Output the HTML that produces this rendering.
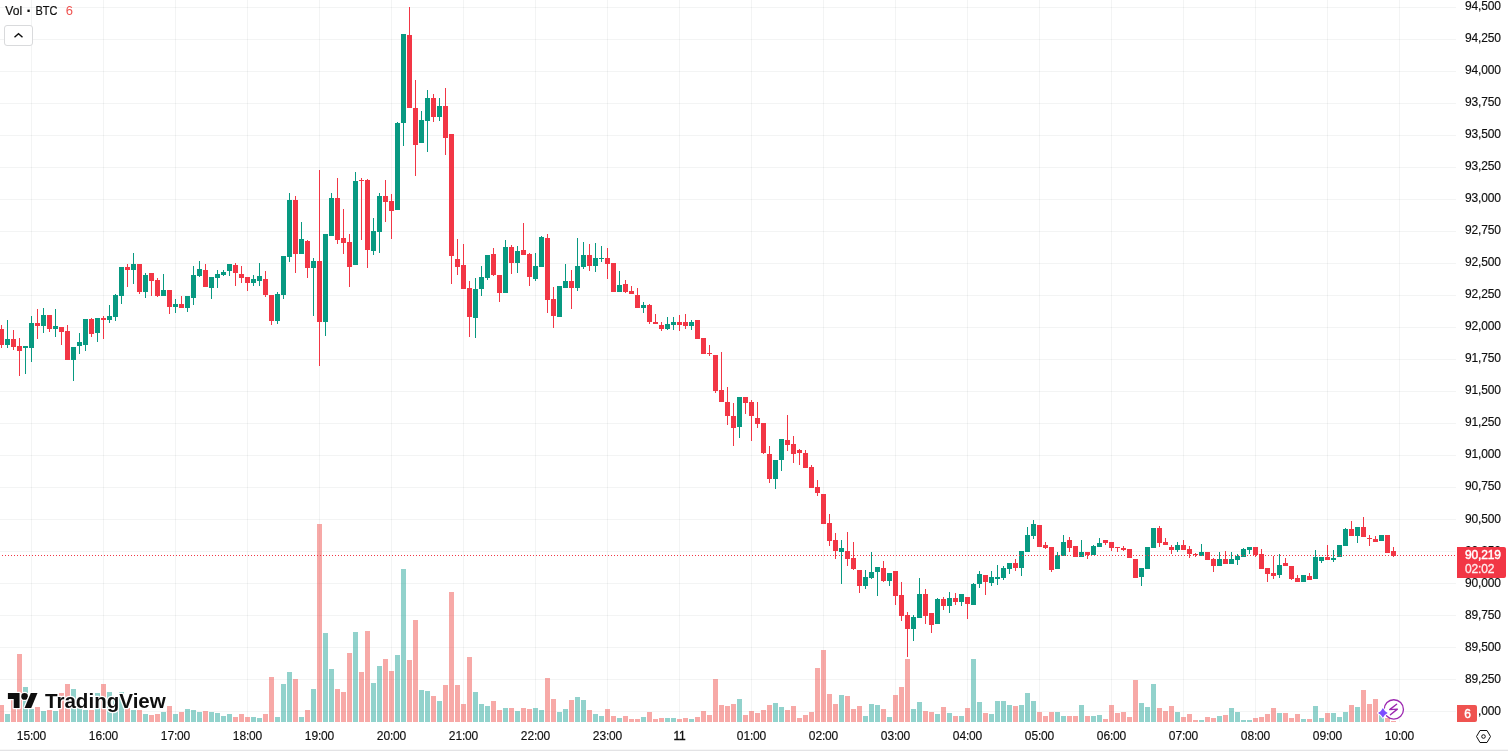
<!DOCTYPE html>
<html><head><meta charset="utf-8"><title>BTC chart</title>
<style>
html,body{margin:0;padding:0;background:#fff;}
body{width:1508px;height:751px;overflow:hidden;font-family:"Liberation Sans",sans-serif;}
svg{display:block;position:absolute;left:0;top:0;}
text{font-family:"Liberation Sans",sans-serif;}
</style></head><body>
<svg width="1508" height="751" viewBox="0 0 1508 751">
<rect width="1508" height="751" fill="#fff"/>

<g shape-rendering="crispEdges" fill="rgba(42,46,57,0.055)">
<rect x="31" y="0" width="1" height="722"/>
<rect x="103" y="0" width="1" height="722"/>
<rect x="175" y="0" width="1" height="722"/>
<rect x="247" y="0" width="1" height="722"/>
<rect x="319" y="0" width="1" height="722"/>
<rect x="391" y="0" width="1" height="722"/>
<rect x="463" y="0" width="1" height="722"/>
<rect x="535" y="0" width="1" height="722"/>
<rect x="607" y="0" width="1" height="722"/>
<rect x="679" y="0" width="1" height="722"/>
<rect x="751" y="0" width="1" height="722"/>
<rect x="823" y="0" width="1" height="722"/>
<rect x="895" y="0" width="1" height="722"/>
<rect x="967" y="0" width="1" height="722"/>
<rect x="1039" y="0" width="1" height="722"/>
<rect x="1111" y="0" width="1" height="722"/>
<rect x="1183" y="0" width="1" height="722"/>
<rect x="1255" y="0" width="1" height="722"/>
<rect x="1327" y="0" width="1" height="722"/>
<rect x="1399" y="0" width="1" height="722"/>
<rect x="0" y="7" width="1456" height="1"/>
<rect x="0" y="39" width="1456" height="1"/>
<rect x="0" y="71" width="1456" height="1"/>
<rect x="0" y="103" width="1456" height="1"/>
<rect x="0" y="135" width="1456" height="1"/>
<rect x="0" y="167" width="1456" height="1"/>
<rect x="0" y="199" width="1456" height="1"/>
<rect x="0" y="231" width="1456" height="1"/>
<rect x="0" y="263" width="1456" height="1"/>
<rect x="0" y="295" width="1456" height="1"/>
<rect x="0" y="327" width="1456" height="1"/>
<rect x="0" y="359" width="1456" height="1"/>
<rect x="0" y="391" width="1456" height="1"/>
<rect x="0" y="423" width="1456" height="1"/>
<rect x="0" y="455" width="1456" height="1"/>
<rect x="0" y="487" width="1456" height="1"/>
<rect x="0" y="519" width="1456" height="1"/>
<rect x="0" y="551" width="1456" height="1"/>
<rect x="0" y="583" width="1456" height="1"/>
<rect x="0" y="615" width="1456" height="1"/>
<rect x="0" y="647" width="1456" height="1"/>
<rect x="0" y="679" width="1456" height="1"/>
<rect x="0" y="711" width="1456" height="1"/>
</g>
<g shape-rendering="crispEdges">
<rect x="-1" y="705" width="5" height="17" fill="rgba(239,83,80,0.5)"/>
<rect x="5" y="714" width="5" height="8" fill="rgba(38,166,154,0.5)"/>
<rect x="11" y="699" width="5" height="23" fill="rgba(239,83,80,0.5)"/>
<rect x="17" y="654" width="5" height="68" fill="rgba(239,83,80,0.5)"/>
<rect x="23" y="687" width="5" height="35" fill="rgba(38,166,154,0.5)"/>
<rect x="29" y="709" width="5" height="13" fill="rgba(38,166,154,0.5)"/>
<rect x="35" y="707" width="5" height="15" fill="rgba(239,83,80,0.5)"/>
<rect x="41" y="711" width="5" height="11" fill="rgba(38,166,154,0.5)"/>
<rect x="47" y="710" width="5" height="12" fill="rgba(239,83,80,0.5)"/>
<rect x="53" y="711" width="5" height="11" fill="rgba(38,166,154,0.5)"/>
<rect x="59" y="693" width="5" height="29" fill="rgba(239,83,80,0.5)"/>
<rect x="65" y="684" width="5" height="38" fill="rgba(239,83,80,0.5)"/>
<rect x="71" y="689" width="5" height="33" fill="rgba(38,166,154,0.5)"/>
<rect x="77" y="705" width="5" height="17" fill="rgba(38,166,154,0.5)"/>
<rect x="83" y="710" width="5" height="12" fill="rgba(38,166,154,0.5)"/>
<rect x="89" y="710" width="5" height="12" fill="rgba(239,83,80,0.5)"/>
<rect x="95" y="693" width="5" height="29" fill="rgba(38,166,154,0.5)"/>
<rect x="101" y="684" width="5" height="38" fill="rgba(239,83,80,0.5)"/>
<rect x="107" y="692" width="5" height="30" fill="rgba(38,166,154,0.5)"/>
<rect x="113" y="700" width="5" height="22" fill="rgba(38,166,154,0.5)"/>
<rect x="119" y="692" width="5" height="30" fill="rgba(38,166,154,0.5)"/>
<rect x="125" y="708" width="5" height="14" fill="rgba(239,83,80,0.5)"/>
<rect x="131" y="710" width="5" height="12" fill="rgba(38,166,154,0.5)"/>
<rect x="137" y="710" width="5" height="12" fill="rgba(239,83,80,0.5)"/>
<rect x="143" y="714" width="5" height="8" fill="rgba(38,166,154,0.5)"/>
<rect x="149" y="715" width="5" height="7" fill="rgba(239,83,80,0.5)"/>
<rect x="155" y="714" width="5" height="8" fill="rgba(239,83,80,0.5)"/>
<rect x="161" y="712" width="5" height="10" fill="rgba(38,166,154,0.5)"/>
<rect x="167" y="706" width="5" height="16" fill="rgba(239,83,80,0.5)"/>
<rect x="173" y="714" width="5" height="8" fill="rgba(38,166,154,0.5)"/>
<rect x="179" y="712" width="5" height="10" fill="rgba(239,83,80,0.5)"/>
<rect x="185" y="709" width="5" height="13" fill="rgba(38,166,154,0.5)"/>
<rect x="191" y="710" width="5" height="12" fill="rgba(38,166,154,0.5)"/>
<rect x="197" y="712" width="5" height="10" fill="rgba(38,166,154,0.5)"/>
<rect x="203" y="711" width="5" height="11" fill="rgba(239,83,80,0.5)"/>
<rect x="209" y="712" width="5" height="10" fill="rgba(38,166,154,0.5)"/>
<rect x="215" y="713" width="5" height="9" fill="rgba(38,166,154,0.5)"/>
<rect x="221" y="716" width="5" height="6" fill="rgba(38,166,154,0.5)"/>
<rect x="227" y="714" width="5" height="8" fill="rgba(38,166,154,0.5)"/>
<rect x="233" y="717" width="5" height="5" fill="rgba(239,83,80,0.5)"/>
<rect x="239" y="714" width="5" height="8" fill="rgba(239,83,80,0.5)"/>
<rect x="245" y="717" width="5" height="5" fill="rgba(239,83,80,0.5)"/>
<rect x="251" y="717" width="5" height="5" fill="rgba(38,166,154,0.5)"/>
<rect x="257" y="718" width="5" height="4" fill="rgba(38,166,154,0.5)"/>
<rect x="263" y="714" width="5" height="8" fill="rgba(239,83,80,0.5)"/>
<rect x="269" y="677" width="5" height="45" fill="rgba(239,83,80,0.5)"/>
<rect x="275" y="717" width="5" height="5" fill="rgba(38,166,154,0.5)"/>
<rect x="281" y="684" width="5" height="38" fill="rgba(38,166,154,0.5)"/>
<rect x="287" y="672" width="5" height="50" fill="rgba(38,166,154,0.5)"/>
<rect x="293" y="679" width="5" height="43" fill="rgba(239,83,80,0.5)"/>
<rect x="299" y="717" width="5" height="5" fill="rgba(38,166,154,0.5)"/>
<rect x="305" y="710" width="5" height="12" fill="rgba(239,83,80,0.5)"/>
<rect x="311" y="689" width="5" height="33" fill="rgba(38,166,154,0.5)"/>
<rect x="317" y="524" width="5" height="198" fill="rgba(239,83,80,0.5)"/>
<rect x="323" y="633" width="5" height="89" fill="rgba(38,166,154,0.5)"/>
<rect x="329" y="669" width="5" height="53" fill="rgba(38,166,154,0.5)"/>
<rect x="335" y="689" width="5" height="33" fill="rgba(239,83,80,0.5)"/>
<rect x="341" y="692" width="5" height="30" fill="rgba(239,83,80,0.5)"/>
<rect x="347" y="653" width="5" height="69" fill="rgba(239,83,80,0.5)"/>
<rect x="353" y="632" width="5" height="90" fill="rgba(38,166,154,0.5)"/>
<rect x="359" y="672" width="5" height="50" fill="rgba(239,83,80,0.5)"/>
<rect x="365" y="631" width="5" height="91" fill="rgba(239,83,80,0.5)"/>
<rect x="371" y="683" width="5" height="39" fill="rgba(38,166,154,0.5)"/>
<rect x="377" y="666" width="5" height="56" fill="rgba(38,166,154,0.5)"/>
<rect x="383" y="659" width="5" height="63" fill="rgba(239,83,80,0.5)"/>
<rect x="389" y="671" width="5" height="51" fill="rgba(239,83,80,0.5)"/>
<rect x="395" y="655" width="5" height="67" fill="rgba(38,166,154,0.5)"/>
<rect x="401" y="569" width="5" height="153" fill="rgba(38,166,154,0.5)"/>
<rect x="407" y="660" width="5" height="62" fill="rgba(239,83,80,0.5)"/>
<rect x="413" y="620" width="5" height="102" fill="rgba(239,83,80,0.5)"/>
<rect x="419" y="690" width="5" height="32" fill="rgba(38,166,154,0.5)"/>
<rect x="425" y="691" width="5" height="31" fill="rgba(38,166,154,0.5)"/>
<rect x="431" y="696" width="5" height="26" fill="rgba(239,83,80,0.5)"/>
<rect x="437" y="701" width="5" height="21" fill="rgba(38,166,154,0.5)"/>
<rect x="443" y="685" width="5" height="37" fill="rgba(239,83,80,0.5)"/>
<rect x="449" y="592" width="5" height="130" fill="rgba(239,83,80,0.5)"/>
<rect x="455" y="685" width="5" height="37" fill="rgba(239,83,80,0.5)"/>
<rect x="461" y="704" width="5" height="18" fill="rgba(239,83,80,0.5)"/>
<rect x="467" y="657" width="5" height="65" fill="rgba(239,83,80,0.5)"/>
<rect x="473" y="692" width="5" height="30" fill="rgba(38,166,154,0.5)"/>
<rect x="479" y="704" width="5" height="18" fill="rgba(38,166,154,0.5)"/>
<rect x="485" y="706" width="5" height="16" fill="rgba(38,166,154,0.5)"/>
<rect x="491" y="701" width="5" height="21" fill="rgba(239,83,80,0.5)"/>
<rect x="497" y="710" width="5" height="12" fill="rgba(239,83,80,0.5)"/>
<rect x="503" y="708" width="5" height="14" fill="rgba(38,166,154,0.5)"/>
<rect x="509" y="708" width="5" height="14" fill="rgba(239,83,80,0.5)"/>
<rect x="515" y="711" width="5" height="11" fill="rgba(38,166,154,0.5)"/>
<rect x="521" y="708" width="5" height="14" fill="rgba(239,83,80,0.5)"/>
<rect x="527" y="709" width="5" height="13" fill="rgba(239,83,80,0.5)"/>
<rect x="533" y="708" width="5" height="14" fill="rgba(38,166,154,0.5)"/>
<rect x="539" y="710" width="5" height="12" fill="rgba(38,166,154,0.5)"/>
<rect x="545" y="678" width="5" height="44" fill="rgba(239,83,80,0.5)"/>
<rect x="551" y="699" width="5" height="23" fill="rgba(239,83,80,0.5)"/>
<rect x="557" y="712" width="5" height="10" fill="rgba(38,166,154,0.5)"/>
<rect x="563" y="709" width="5" height="13" fill="rgba(38,166,154,0.5)"/>
<rect x="569" y="700" width="5" height="22" fill="rgba(239,83,80,0.5)"/>
<rect x="575" y="697" width="5" height="25" fill="rgba(38,166,154,0.5)"/>
<rect x="581" y="700" width="5" height="22" fill="rgba(38,166,154,0.5)"/>
<rect x="587" y="710" width="5" height="12" fill="rgba(239,83,80,0.5)"/>
<rect x="593" y="714" width="5" height="8" fill="rgba(38,166,154,0.5)"/>
<rect x="599" y="716" width="5" height="6" fill="rgba(38,166,154,0.5)"/>
<rect x="605" y="709" width="5" height="13" fill="rgba(239,83,80,0.5)"/>
<rect x="611" y="716" width="5" height="6" fill="rgba(239,83,80,0.5)"/>
<rect x="617" y="718" width="5" height="4" fill="rgba(38,166,154,0.5)"/>
<rect x="623" y="716" width="5" height="6" fill="rgba(239,83,80,0.5)"/>
<rect x="629" y="719" width="5" height="3" fill="rgba(239,83,80,0.5)"/>
<rect x="635" y="719" width="5" height="3" fill="rgba(239,83,80,0.5)"/>
<rect x="641" y="717" width="5" height="5" fill="rgba(38,166,154,0.5)"/>
<rect x="647" y="712" width="5" height="10" fill="rgba(239,83,80,0.5)"/>
<rect x="653" y="719" width="5" height="3" fill="rgba(239,83,80,0.5)"/>
<rect x="659" y="718" width="5" height="4" fill="rgba(239,83,80,0.5)"/>
<rect x="665" y="718" width="5" height="4" fill="rgba(38,166,154,0.5)"/>
<rect x="671" y="718" width="5" height="4" fill="rgba(38,166,154,0.5)"/>
<rect x="677" y="719" width="5" height="3" fill="rgba(239,83,80,0.5)"/>
<rect x="683" y="718" width="5" height="4" fill="rgba(239,83,80,0.5)"/>
<rect x="689" y="719" width="5" height="3" fill="rgba(38,166,154,0.5)"/>
<rect x="695" y="717" width="5" height="5" fill="rgba(239,83,80,0.5)"/>
<rect x="701" y="711" width="5" height="11" fill="rgba(239,83,80,0.5)"/>
<rect x="707" y="715" width="5" height="7" fill="rgba(239,83,80,0.5)"/>
<rect x="713" y="679" width="5" height="43" fill="rgba(239,83,80,0.5)"/>
<rect x="719" y="705" width="5" height="17" fill="rgba(239,83,80,0.5)"/>
<rect x="725" y="706" width="5" height="16" fill="rgba(239,83,80,0.5)"/>
<rect x="731" y="704" width="5" height="18" fill="rgba(239,83,80,0.5)"/>
<rect x="737" y="699" width="5" height="23" fill="rgba(38,166,154,0.5)"/>
<rect x="743" y="715" width="5" height="7" fill="rgba(239,83,80,0.5)"/>
<rect x="749" y="711" width="5" height="11" fill="rgba(239,83,80,0.5)"/>
<rect x="755" y="713" width="5" height="9" fill="rgba(239,83,80,0.5)"/>
<rect x="761" y="710" width="5" height="12" fill="rgba(239,83,80,0.5)"/>
<rect x="767" y="705" width="5" height="17" fill="rgba(239,83,80,0.5)"/>
<rect x="773" y="703" width="5" height="19" fill="rgba(38,166,154,0.5)"/>
<rect x="779" y="707" width="5" height="15" fill="rgba(38,166,154,0.5)"/>
<rect x="785" y="710" width="5" height="12" fill="rgba(239,83,80,0.5)"/>
<rect x="791" y="706" width="5" height="16" fill="rgba(239,83,80,0.5)"/>
<rect x="797" y="718" width="5" height="4" fill="rgba(239,83,80,0.5)"/>
<rect x="803" y="715" width="5" height="7" fill="rgba(239,83,80,0.5)"/>
<rect x="809" y="712" width="5" height="10" fill="rgba(239,83,80,0.5)"/>
<rect x="815" y="668" width="5" height="54" fill="rgba(239,83,80,0.5)"/>
<rect x="821" y="650" width="5" height="72" fill="rgba(239,83,80,0.5)"/>
<rect x="827" y="694" width="5" height="28" fill="rgba(239,83,80,0.5)"/>
<rect x="833" y="704" width="5" height="18" fill="rgba(239,83,80,0.5)"/>
<rect x="839" y="695" width="5" height="27" fill="rgba(38,166,154,0.5)"/>
<rect x="845" y="696" width="5" height="26" fill="rgba(239,83,80,0.5)"/>
<rect x="851" y="709" width="5" height="13" fill="rgba(239,83,80,0.5)"/>
<rect x="857" y="706" width="5" height="16" fill="rgba(239,83,80,0.5)"/>
<rect x="863" y="716" width="5" height="6" fill="rgba(38,166,154,0.5)"/>
<rect x="869" y="704" width="5" height="18" fill="rgba(38,166,154,0.5)"/>
<rect x="875" y="705" width="5" height="17" fill="rgba(38,166,154,0.5)"/>
<rect x="881" y="709" width="5" height="13" fill="rgba(239,83,80,0.5)"/>
<rect x="887" y="717" width="5" height="5" fill="rgba(38,166,154,0.5)"/>
<rect x="893" y="695" width="5" height="27" fill="rgba(239,83,80,0.5)"/>
<rect x="899" y="687" width="5" height="35" fill="rgba(239,83,80,0.5)"/>
<rect x="905" y="659" width="5" height="63" fill="rgba(239,83,80,0.5)"/>
<rect x="911" y="709" width="5" height="13" fill="rgba(38,166,154,0.5)"/>
<rect x="917" y="702" width="5" height="20" fill="rgba(38,166,154,0.5)"/>
<rect x="923" y="711" width="5" height="11" fill="rgba(239,83,80,0.5)"/>
<rect x="929" y="712" width="5" height="10" fill="rgba(239,83,80,0.5)"/>
<rect x="935" y="714" width="5" height="8" fill="rgba(38,166,154,0.5)"/>
<rect x="941" y="707" width="5" height="15" fill="rgba(239,83,80,0.5)"/>
<rect x="947" y="713" width="5" height="9" fill="rgba(38,166,154,0.5)"/>
<rect x="953" y="716" width="5" height="6" fill="rgba(239,83,80,0.5)"/>
<rect x="959" y="716" width="5" height="6" fill="rgba(38,166,154,0.5)"/>
<rect x="965" y="708" width="5" height="14" fill="rgba(239,83,80,0.5)"/>
<rect x="971" y="659" width="5" height="63" fill="rgba(38,166,154,0.5)"/>
<rect x="977" y="702" width="5" height="20" fill="rgba(38,166,154,0.5)"/>
<rect x="983" y="713" width="5" height="9" fill="rgba(239,83,80,0.5)"/>
<rect x="989" y="714" width="5" height="8" fill="rgba(38,166,154,0.5)"/>
<rect x="995" y="701" width="5" height="21" fill="rgba(38,166,154,0.5)"/>
<rect x="1001" y="701" width="5" height="21" fill="rgba(38,166,154,0.5)"/>
<rect x="1007" y="705" width="5" height="17" fill="rgba(38,166,154,0.5)"/>
<rect x="1013" y="706" width="5" height="16" fill="rgba(239,83,80,0.5)"/>
<rect x="1019" y="705" width="5" height="17" fill="rgba(38,166,154,0.5)"/>
<rect x="1025" y="693" width="5" height="29" fill="rgba(38,166,154,0.5)"/>
<rect x="1031" y="701" width="5" height="21" fill="rgba(38,166,154,0.5)"/>
<rect x="1037" y="712" width="5" height="10" fill="rgba(239,83,80,0.5)"/>
<rect x="1043" y="716" width="5" height="6" fill="rgba(239,83,80,0.5)"/>
<rect x="1049" y="712" width="5" height="10" fill="rgba(239,83,80,0.5)"/>
<rect x="1055" y="712" width="5" height="10" fill="rgba(38,166,154,0.5)"/>
<rect x="1061" y="716" width="5" height="6" fill="rgba(38,166,154,0.5)"/>
<rect x="1067" y="716" width="5" height="6" fill="rgba(239,83,80,0.5)"/>
<rect x="1073" y="716" width="5" height="6" fill="rgba(239,83,80,0.5)"/>
<rect x="1079" y="705" width="5" height="17" fill="rgba(38,166,154,0.5)"/>
<rect x="1085" y="716" width="5" height="6" fill="rgba(239,83,80,0.5)"/>
<rect x="1091" y="716" width="5" height="6" fill="rgba(38,166,154,0.5)"/>
<rect x="1097" y="715" width="5" height="7" fill="rgba(38,166,154,0.5)"/>
<rect x="1103" y="719" width="5" height="3" fill="rgba(239,83,80,0.5)"/>
<rect x="1109" y="705" width="5" height="17" fill="rgba(239,83,80,0.5)"/>
<rect x="1115" y="713" width="5" height="9" fill="rgba(239,83,80,0.5)"/>
<rect x="1121" y="712" width="5" height="10" fill="rgba(239,83,80,0.5)"/>
<rect x="1127" y="717" width="5" height="5" fill="rgba(239,83,80,0.5)"/>
<rect x="1133" y="680" width="5" height="42" fill="rgba(239,83,80,0.5)"/>
<rect x="1139" y="703" width="5" height="19" fill="rgba(38,166,154,0.5)"/>
<rect x="1145" y="707" width="5" height="15" fill="rgba(38,166,154,0.5)"/>
<rect x="1151" y="684" width="5" height="38" fill="rgba(38,166,154,0.5)"/>
<rect x="1157" y="708" width="5" height="14" fill="rgba(239,83,80,0.5)"/>
<rect x="1163" y="711" width="5" height="11" fill="rgba(239,83,80,0.5)"/>
<rect x="1169" y="706" width="5" height="16" fill="rgba(239,83,80,0.5)"/>
<rect x="1175" y="712" width="5" height="10" fill="rgba(38,166,154,0.5)"/>
<rect x="1181" y="717" width="5" height="5" fill="rgba(239,83,80,0.5)"/>
<rect x="1187" y="714" width="5" height="8" fill="rgba(239,83,80,0.5)"/>
<rect x="1193" y="720" width="5" height="2" fill="rgba(239,83,80,0.5)"/>
<rect x="1199" y="720" width="5" height="2" fill="rgba(38,166,154,0.5)"/>
<rect x="1205" y="717" width="5" height="5" fill="rgba(239,83,80,0.5)"/>
<rect x="1211" y="718" width="5" height="4" fill="rgba(239,83,80,0.5)"/>
<rect x="1217" y="716" width="5" height="6" fill="rgba(38,166,154,0.5)"/>
<rect x="1223" y="715" width="5" height="7" fill="rgba(239,83,80,0.5)"/>
<rect x="1229" y="708" width="5" height="14" fill="rgba(38,166,154,0.5)"/>
<rect x="1235" y="712" width="5" height="10" fill="rgba(38,166,154,0.5)"/>
<rect x="1241" y="720" width="5" height="2" fill="rgba(38,166,154,0.5)"/>
<rect x="1247" y="720" width="5" height="2" fill="rgba(38,166,154,0.5)"/>
<rect x="1253" y="718" width="5" height="4" fill="rgba(239,83,80,0.5)"/>
<rect x="1259" y="717" width="5" height="5" fill="rgba(239,83,80,0.5)"/>
<rect x="1265" y="714" width="5" height="8" fill="rgba(239,83,80,0.5)"/>
<rect x="1271" y="708" width="5" height="14" fill="rgba(239,83,80,0.5)"/>
<rect x="1277" y="713" width="5" height="9" fill="rgba(38,166,154,0.5)"/>
<rect x="1283" y="713" width="5" height="9" fill="rgba(239,83,80,0.5)"/>
<rect x="1289" y="718" width="5" height="4" fill="rgba(239,83,80,0.5)"/>
<rect x="1295" y="714" width="5" height="8" fill="rgba(239,83,80,0.5)"/>
<rect x="1301" y="719" width="5" height="3" fill="rgba(38,166,154,0.5)"/>
<rect x="1307" y="719" width="5" height="3" fill="rgba(239,83,80,0.5)"/>
<rect x="1313" y="706" width="5" height="16" fill="rgba(38,166,154,0.5)"/>
<rect x="1319" y="718" width="5" height="4" fill="rgba(38,166,154,0.5)"/>
<rect x="1325" y="713" width="5" height="9" fill="rgba(239,83,80,0.5)"/>
<rect x="1331" y="713" width="5" height="9" fill="rgba(38,166,154,0.5)"/>
<rect x="1337" y="717" width="5" height="5" fill="rgba(38,166,154,0.5)"/>
<rect x="1343" y="712" width="5" height="10" fill="rgba(38,166,154,0.5)"/>
<rect x="1349" y="705" width="5" height="17" fill="rgba(239,83,80,0.5)"/>
<rect x="1355" y="707" width="5" height="15" fill="rgba(38,166,154,0.5)"/>
<rect x="1361" y="690" width="5" height="32" fill="rgba(239,83,80,0.5)"/>
<rect x="1367" y="704" width="5" height="18" fill="rgba(239,83,80,0.5)"/>
<rect x="1373" y="699" width="5" height="23" fill="rgba(239,83,80,0.5)"/>
<rect x="1379" y="714" width="5" height="8" fill="rgba(38,166,154,0.5)"/>
<rect x="1385" y="718" width="5" height="4" fill="rgba(239,83,80,0.5)"/>
<rect x="1391" y="721" width="5" height="1" fill="rgba(239,83,80,0.5)"/>
</g>
<g shape-rendering="crispEdges">
<rect x="1" y="325" width="1" height="23" fill="#F23645"/>
<rect x="-1" y="329" width="5" height="16" fill="#F23645"/>
<rect x="7" y="320" width="1" height="28" fill="#089981"/>
<rect x="5" y="339" width="5" height="6" fill="#089981"/>
<rect x="13" y="330" width="1" height="20" fill="#F23645"/>
<rect x="11" y="339" width="5" height="8" fill="#F23645"/>
<rect x="19" y="338" width="1" height="38" fill="#F23645"/>
<rect x="17" y="346" width="5" height="5" fill="#F23645"/>
<rect x="25" y="346" width="1" height="28" fill="#089981"/>
<rect x="23" y="346" width="5" height="2" fill="#089981"/>
<rect x="31" y="316" width="1" height="46" fill="#089981"/>
<rect x="29" y="323" width="5" height="25" fill="#089981"/>
<rect x="37" y="309" width="1" height="30" fill="#F23645"/>
<rect x="35" y="323" width="5" height="3" fill="#F23645"/>
<rect x="43" y="308" width="1" height="25" fill="#089981"/>
<rect x="41" y="315" width="5" height="11" fill="#089981"/>
<rect x="49" y="315" width="1" height="17" fill="#F23645"/>
<rect x="47" y="315" width="5" height="14" fill="#F23645"/>
<rect x="55" y="309" width="1" height="28" fill="#089981"/>
<rect x="53" y="326" width="5" height="3" fill="#089981"/>
<rect x="61" y="327" width="1" height="18" fill="#F23645"/>
<rect x="59" y="327" width="5" height="5" fill="#F23645"/>
<rect x="67" y="325" width="1" height="35" fill="#F23645"/>
<rect x="65" y="331" width="5" height="29" fill="#F23645"/>
<rect x="73" y="347" width="1" height="34" fill="#089981"/>
<rect x="71" y="347" width="5" height="13" fill="#089981"/>
<rect x="79" y="333" width="1" height="21" fill="#089981"/>
<rect x="77" y="342" width="5" height="4" fill="#089981"/>
<rect x="85" y="319" width="1" height="32" fill="#089981"/>
<rect x="83" y="319" width="5" height="26" fill="#089981"/>
<rect x="91" y="318" width="1" height="19" fill="#F23645"/>
<rect x="89" y="319" width="5" height="15" fill="#F23645"/>
<rect x="97" y="318" width="1" height="24" fill="#089981"/>
<rect x="95" y="318" width="5" height="15" fill="#089981"/>
<rect x="103" y="316" width="1" height="23" fill="#F23645"/>
<rect x="101" y="318" width="5" height="2" fill="#F23645"/>
<rect x="109" y="305" width="1" height="18" fill="#089981"/>
<rect x="107" y="316" width="5" height="4" fill="#089981"/>
<rect x="115" y="294" width="1" height="27" fill="#089981"/>
<rect x="113" y="295" width="5" height="22" fill="#089981"/>
<rect x="121" y="267" width="1" height="37" fill="#089981"/>
<rect x="119" y="267" width="5" height="29" fill="#089981"/>
<rect x="127" y="264" width="1" height="23" fill="#F23645"/>
<rect x="125" y="267" width="5" height="3" fill="#F23645"/>
<rect x="133" y="253" width="1" height="31" fill="#089981"/>
<rect x="131" y="264" width="5" height="6" fill="#089981"/>
<rect x="139" y="264" width="1" height="30" fill="#F23645"/>
<rect x="137" y="264" width="5" height="28" fill="#F23645"/>
<rect x="145" y="273" width="1" height="25" fill="#089981"/>
<rect x="143" y="275" width="5" height="17" fill="#089981"/>
<rect x="151" y="273" width="1" height="23" fill="#F23645"/>
<rect x="149" y="273" width="5" height="8" fill="#F23645"/>
<rect x="157" y="278" width="1" height="19" fill="#F23645"/>
<rect x="155" y="280" width="5" height="16" fill="#F23645"/>
<rect x="163" y="274" width="1" height="22" fill="#089981"/>
<rect x="161" y="290" width="5" height="6" fill="#089981"/>
<rect x="169" y="290" width="1" height="24" fill="#F23645"/>
<rect x="167" y="290" width="5" height="17" fill="#F23645"/>
<rect x="175" y="299" width="1" height="14" fill="#089981"/>
<rect x="173" y="304" width="5" height="3" fill="#089981"/>
<rect x="181" y="296" width="1" height="12" fill="#F23645"/>
<rect x="179" y="304" width="5" height="4" fill="#F23645"/>
<rect x="187" y="296" width="1" height="16" fill="#089981"/>
<rect x="185" y="296" width="5" height="12" fill="#089981"/>
<rect x="193" y="266" width="1" height="39" fill="#089981"/>
<rect x="191" y="275" width="5" height="23" fill="#089981"/>
<rect x="199" y="261" width="1" height="16" fill="#089981"/>
<rect x="197" y="269" width="5" height="7" fill="#089981"/>
<rect x="205" y="264" width="1" height="23" fill="#F23645"/>
<rect x="203" y="270" width="5" height="17" fill="#F23645"/>
<rect x="211" y="277" width="1" height="22" fill="#089981"/>
<rect x="209" y="277" width="5" height="11" fill="#089981"/>
<rect x="217" y="270" width="1" height="18" fill="#089981"/>
<rect x="215" y="274" width="5" height="4" fill="#089981"/>
<rect x="223" y="270" width="1" height="6" fill="#089981"/>
<rect x="221" y="272" width="5" height="3" fill="#089981"/>
<rect x="229" y="264" width="1" height="12" fill="#089981"/>
<rect x="227" y="264" width="5" height="7" fill="#089981"/>
<rect x="235" y="263" width="1" height="23" fill="#F23645"/>
<rect x="233" y="265" width="5" height="8" fill="#F23645"/>
<rect x="241" y="266" width="1" height="17" fill="#F23645"/>
<rect x="239" y="274" width="5" height="4" fill="#F23645"/>
<rect x="247" y="277" width="1" height="14" fill="#F23645"/>
<rect x="245" y="277" width="5" height="6" fill="#F23645"/>
<rect x="253" y="275" width="1" height="11" fill="#089981"/>
<rect x="251" y="279" width="5" height="4" fill="#089981"/>
<rect x="259" y="263" width="1" height="23" fill="#089981"/>
<rect x="257" y="276" width="5" height="5" fill="#089981"/>
<rect x="265" y="271" width="1" height="26" fill="#F23645"/>
<rect x="263" y="279" width="5" height="16" fill="#F23645"/>
<rect x="271" y="295" width="1" height="30" fill="#F23645"/>
<rect x="269" y="295" width="5" height="26" fill="#F23645"/>
<rect x="277" y="292" width="1" height="32" fill="#089981"/>
<rect x="275" y="294" width="5" height="27" fill="#089981"/>
<rect x="283" y="256" width="1" height="43" fill="#089981"/>
<rect x="281" y="256" width="5" height="39" fill="#089981"/>
<rect x="289" y="193" width="1" height="69" fill="#089981"/>
<rect x="287" y="200" width="5" height="57" fill="#089981"/>
<rect x="295" y="196" width="1" height="77" fill="#F23645"/>
<rect x="293" y="200" width="5" height="54" fill="#F23645"/>
<rect x="301" y="222" width="1" height="32" fill="#089981"/>
<rect x="299" y="239" width="5" height="15" fill="#089981"/>
<rect x="307" y="240" width="1" height="38" fill="#F23645"/>
<rect x="305" y="241" width="5" height="27" fill="#F23645"/>
<rect x="313" y="258" width="1" height="58" fill="#089981"/>
<rect x="311" y="261" width="5" height="7" fill="#089981"/>
<rect x="319" y="170" width="1" height="196" fill="#F23645"/>
<rect x="317" y="261" width="5" height="61" fill="#F23645"/>
<rect x="325" y="234" width="1" height="102" fill="#089981"/>
<rect x="323" y="234" width="5" height="88" fill="#089981"/>
<rect x="331" y="193" width="1" height="43" fill="#089981"/>
<rect x="329" y="198" width="5" height="38" fill="#089981"/>
<rect x="337" y="178" width="1" height="66" fill="#F23645"/>
<rect x="335" y="198" width="5" height="42" fill="#F23645"/>
<rect x="343" y="209" width="1" height="45" fill="#F23645"/>
<rect x="341" y="238" width="5" height="5" fill="#F23645"/>
<rect x="349" y="234" width="1" height="53" fill="#F23645"/>
<rect x="347" y="242" width="5" height="25" fill="#F23645"/>
<rect x="355" y="172" width="1" height="93" fill="#089981"/>
<rect x="353" y="181" width="5" height="84" fill="#089981"/>
<rect x="361" y="178" width="1" height="62" fill="#F23645"/>
<rect x="359" y="180" width="5" height="1" fill="#F23645"/>
<rect x="367" y="179" width="1" height="89" fill="#F23645"/>
<rect x="365" y="180" width="5" height="70" fill="#F23645"/>
<rect x="373" y="218" width="1" height="37" fill="#089981"/>
<rect x="371" y="231" width="5" height="20" fill="#089981"/>
<rect x="379" y="193" width="1" height="60" fill="#089981"/>
<rect x="377" y="196" width="5" height="36" fill="#089981"/>
<rect x="385" y="180" width="1" height="42" fill="#F23645"/>
<rect x="383" y="196" width="5" height="6" fill="#F23645"/>
<rect x="391" y="194" width="1" height="45" fill="#F23645"/>
<rect x="389" y="201" width="5" height="10" fill="#F23645"/>
<rect x="397" y="122" width="1" height="88" fill="#089981"/>
<rect x="395" y="123" width="5" height="87" fill="#089981"/>
<rect x="403" y="34" width="1" height="112" fill="#089981"/>
<rect x="401" y="34" width="5" height="89" fill="#089981"/>
<rect x="409" y="7" width="1" height="101" fill="#F23645"/>
<rect x="407" y="35" width="5" height="73" fill="#F23645"/>
<rect x="415" y="80" width="1" height="96" fill="#F23645"/>
<rect x="413" y="108" width="5" height="37" fill="#F23645"/>
<rect x="421" y="111" width="1" height="32" fill="#089981"/>
<rect x="419" y="120" width="5" height="23" fill="#089981"/>
<rect x="427" y="90" width="1" height="62" fill="#089981"/>
<rect x="425" y="98" width="5" height="23" fill="#089981"/>
<rect x="433" y="94" width="1" height="28" fill="#F23645"/>
<rect x="431" y="98" width="5" height="19" fill="#F23645"/>
<rect x="439" y="98" width="1" height="23" fill="#089981"/>
<rect x="437" y="106" width="5" height="11" fill="#089981"/>
<rect x="445" y="88" width="1" height="67" fill="#F23645"/>
<rect x="443" y="106" width="5" height="32" fill="#F23645"/>
<rect x="451" y="134" width="1" height="150" fill="#F23645"/>
<rect x="449" y="134" width="5" height="122" fill="#F23645"/>
<rect x="457" y="239" width="1" height="36" fill="#F23645"/>
<rect x="455" y="259" width="5" height="8" fill="#F23645"/>
<rect x="463" y="244" width="1" height="45" fill="#F23645"/>
<rect x="461" y="265" width="5" height="24" fill="#F23645"/>
<rect x="469" y="281" width="1" height="56" fill="#F23645"/>
<rect x="467" y="288" width="5" height="29" fill="#F23645"/>
<rect x="475" y="278" width="1" height="60" fill="#089981"/>
<rect x="473" y="289" width="5" height="29" fill="#089981"/>
<rect x="481" y="266" width="1" height="30" fill="#089981"/>
<rect x="479" y="277" width="5" height="12" fill="#089981"/>
<rect x="487" y="255" width="1" height="25" fill="#089981"/>
<rect x="485" y="255" width="5" height="23" fill="#089981"/>
<rect x="493" y="248" width="1" height="28" fill="#F23645"/>
<rect x="491" y="254" width="5" height="21" fill="#F23645"/>
<rect x="499" y="275" width="1" height="27" fill="#F23645"/>
<rect x="497" y="275" width="5" height="18" fill="#F23645"/>
<rect x="505" y="240" width="1" height="53" fill="#089981"/>
<rect x="503" y="247" width="5" height="46" fill="#089981"/>
<rect x="511" y="245" width="1" height="29" fill="#F23645"/>
<rect x="509" y="247" width="5" height="16" fill="#F23645"/>
<rect x="517" y="246" width="1" height="27" fill="#089981"/>
<rect x="515" y="251" width="5" height="12" fill="#089981"/>
<rect x="523" y="223" width="1" height="32" fill="#F23645"/>
<rect x="521" y="250" width="5" height="5" fill="#F23645"/>
<rect x="529" y="253" width="1" height="33" fill="#F23645"/>
<rect x="527" y="254" width="5" height="23" fill="#F23645"/>
<rect x="535" y="253" width="1" height="28" fill="#089981"/>
<rect x="533" y="266" width="5" height="13" fill="#089981"/>
<rect x="541" y="236" width="1" height="31" fill="#089981"/>
<rect x="539" y="237" width="5" height="30" fill="#089981"/>
<rect x="547" y="234" width="1" height="79" fill="#F23645"/>
<rect x="545" y="238" width="5" height="62" fill="#F23645"/>
<rect x="553" y="287" width="1" height="41" fill="#F23645"/>
<rect x="551" y="299" width="5" height="17" fill="#F23645"/>
<rect x="559" y="286" width="1" height="31" fill="#089981"/>
<rect x="557" y="286" width="5" height="31" fill="#089981"/>
<rect x="565" y="264" width="1" height="24" fill="#089981"/>
<rect x="563" y="281" width="5" height="7" fill="#089981"/>
<rect x="571" y="270" width="1" height="39" fill="#F23645"/>
<rect x="569" y="281" width="5" height="7" fill="#F23645"/>
<rect x="577" y="238" width="1" height="53" fill="#089981"/>
<rect x="575" y="266" width="5" height="22" fill="#089981"/>
<rect x="583" y="242" width="1" height="27" fill="#089981"/>
<rect x="581" y="255" width="5" height="12" fill="#089981"/>
<rect x="589" y="244" width="1" height="27" fill="#F23645"/>
<rect x="587" y="255" width="5" height="11" fill="#F23645"/>
<rect x="595" y="243" width="1" height="29" fill="#089981"/>
<rect x="593" y="258" width="5" height="8" fill="#089981"/>
<rect x="601" y="246" width="1" height="16" fill="#089981"/>
<rect x="599" y="258" width="5" height="1" fill="#089981"/>
<rect x="607" y="248" width="1" height="31" fill="#F23645"/>
<rect x="605" y="258" width="5" height="6" fill="#F23645"/>
<rect x="613" y="263" width="1" height="29" fill="#F23645"/>
<rect x="611" y="263" width="5" height="29" fill="#F23645"/>
<rect x="619" y="271" width="1" height="21" fill="#089981"/>
<rect x="617" y="285" width="5" height="7" fill="#089981"/>
<rect x="625" y="280" width="1" height="13" fill="#F23645"/>
<rect x="623" y="284" width="5" height="8" fill="#F23645"/>
<rect x="631" y="286" width="1" height="8" fill="#F23645"/>
<rect x="629" y="291" width="5" height="3" fill="#F23645"/>
<rect x="637" y="288" width="1" height="20" fill="#F23645"/>
<rect x="635" y="295" width="5" height="13" fill="#F23645"/>
<rect x="643" y="302" width="1" height="11" fill="#089981"/>
<rect x="641" y="305" width="5" height="3" fill="#089981"/>
<rect x="649" y="304" width="1" height="20" fill="#F23645"/>
<rect x="647" y="305" width="5" height="17" fill="#F23645"/>
<rect x="655" y="314" width="1" height="10" fill="#F23645"/>
<rect x="653" y="322" width="5" height="2" fill="#F23645"/>
<rect x="661" y="322" width="1" height="9" fill="#F23645"/>
<rect x="659" y="325" width="5" height="4" fill="#F23645"/>
<rect x="667" y="317" width="1" height="13" fill="#089981"/>
<rect x="665" y="324" width="5" height="5" fill="#089981"/>
<rect x="673" y="317" width="1" height="13" fill="#089981"/>
<rect x="671" y="322" width="5" height="3" fill="#089981"/>
<rect x="679" y="315" width="1" height="16" fill="#F23645"/>
<rect x="677" y="322" width="5" height="3" fill="#F23645"/>
<rect x="685" y="314" width="1" height="15" fill="#F23645"/>
<rect x="683" y="322" width="5" height="4" fill="#F23645"/>
<rect x="691" y="320" width="1" height="10" fill="#089981"/>
<rect x="689" y="322" width="5" height="4" fill="#089981"/>
<rect x="697" y="320" width="1" height="19" fill="#F23645"/>
<rect x="695" y="320" width="5" height="19" fill="#F23645"/>
<rect x="703" y="338" width="1" height="16" fill="#F23645"/>
<rect x="701" y="338" width="5" height="16" fill="#F23645"/>
<rect x="709" y="345" width="1" height="11" fill="#F23645"/>
<rect x="707" y="353" width="5" height="1" fill="#F23645"/>
<rect x="715" y="355" width="1" height="38" fill="#F23645"/>
<rect x="713" y="355" width="5" height="36" fill="#F23645"/>
<rect x="721" y="352" width="1" height="50" fill="#F23645"/>
<rect x="719" y="390" width="5" height="12" fill="#F23645"/>
<rect x="727" y="387" width="1" height="38" fill="#F23645"/>
<rect x="725" y="402" width="5" height="14" fill="#F23645"/>
<rect x="733" y="403" width="1" height="43" fill="#F23645"/>
<rect x="731" y="416" width="5" height="12" fill="#F23645"/>
<rect x="739" y="397" width="1" height="41" fill="#089981"/>
<rect x="737" y="397" width="5" height="30" fill="#089981"/>
<rect x="745" y="397" width="1" height="17" fill="#F23645"/>
<rect x="743" y="397" width="5" height="6" fill="#F23645"/>
<rect x="751" y="400" width="1" height="41" fill="#F23645"/>
<rect x="749" y="402" width="5" height="14" fill="#F23645"/>
<rect x="757" y="402" width="1" height="26" fill="#F23645"/>
<rect x="755" y="418" width="5" height="6" fill="#F23645"/>
<rect x="763" y="423" width="1" height="31" fill="#F23645"/>
<rect x="761" y="423" width="5" height="30" fill="#F23645"/>
<rect x="769" y="446" width="1" height="37" fill="#F23645"/>
<rect x="767" y="454" width="5" height="25" fill="#F23645"/>
<rect x="775" y="460" width="1" height="29" fill="#089981"/>
<rect x="773" y="460" width="5" height="19" fill="#089981"/>
<rect x="781" y="439" width="1" height="32" fill="#089981"/>
<rect x="779" y="439" width="5" height="21" fill="#089981"/>
<rect x="787" y="415" width="1" height="36" fill="#F23645"/>
<rect x="785" y="440" width="5" height="5" fill="#F23645"/>
<rect x="793" y="436" width="1" height="27" fill="#F23645"/>
<rect x="791" y="444" width="5" height="10" fill="#F23645"/>
<rect x="799" y="449" width="1" height="16" fill="#F23645"/>
<rect x="797" y="450" width="5" height="3" fill="#F23645"/>
<rect x="805" y="450" width="1" height="18" fill="#F23645"/>
<rect x="803" y="453" width="5" height="15" fill="#F23645"/>
<rect x="811" y="465" width="1" height="23" fill="#F23645"/>
<rect x="809" y="467" width="5" height="21" fill="#F23645"/>
<rect x="817" y="480" width="1" height="16" fill="#F23645"/>
<rect x="815" y="487" width="5" height="6" fill="#F23645"/>
<rect x="823" y="494" width="1" height="30" fill="#F23645"/>
<rect x="821" y="494" width="5" height="30" fill="#F23645"/>
<rect x="829" y="514" width="1" height="32" fill="#F23645"/>
<rect x="827" y="523" width="5" height="18" fill="#F23645"/>
<rect x="835" y="533" width="1" height="26" fill="#F23645"/>
<rect x="833" y="540" width="5" height="11" fill="#F23645"/>
<rect x="841" y="540" width="1" height="44" fill="#089981"/>
<rect x="839" y="548" width="5" height="4" fill="#089981"/>
<rect x="847" y="532" width="1" height="34" fill="#F23645"/>
<rect x="845" y="551" width="5" height="8" fill="#F23645"/>
<rect x="853" y="542" width="1" height="28" fill="#F23645"/>
<rect x="851" y="558" width="5" height="11" fill="#F23645"/>
<rect x="859" y="570" width="1" height="23" fill="#F23645"/>
<rect x="857" y="570" width="5" height="16" fill="#F23645"/>
<rect x="865" y="570" width="1" height="19" fill="#089981"/>
<rect x="863" y="577" width="5" height="9" fill="#089981"/>
<rect x="871" y="552" width="1" height="27" fill="#089981"/>
<rect x="869" y="572" width="5" height="6" fill="#089981"/>
<rect x="877" y="567" width="1" height="29" fill="#089981"/>
<rect x="875" y="567" width="5" height="5" fill="#089981"/>
<rect x="883" y="561" width="1" height="21" fill="#F23645"/>
<rect x="881" y="568" width="5" height="13" fill="#F23645"/>
<rect x="889" y="573" width="1" height="13" fill="#089981"/>
<rect x="887" y="573" width="5" height="8" fill="#089981"/>
<rect x="895" y="571" width="1" height="34" fill="#F23645"/>
<rect x="893" y="571" width="5" height="25" fill="#F23645"/>
<rect x="901" y="582" width="1" height="39" fill="#F23645"/>
<rect x="899" y="595" width="5" height="21" fill="#F23645"/>
<rect x="907" y="612" width="1" height="45" fill="#F23645"/>
<rect x="905" y="615" width="5" height="14" fill="#F23645"/>
<rect x="913" y="615" width="1" height="26" fill="#089981"/>
<rect x="911" y="617" width="5" height="12" fill="#089981"/>
<rect x="919" y="578" width="1" height="40" fill="#089981"/>
<rect x="917" y="594" width="5" height="24" fill="#089981"/>
<rect x="925" y="589" width="1" height="35" fill="#F23645"/>
<rect x="923" y="594" width="5" height="22" fill="#F23645"/>
<rect x="931" y="613" width="1" height="20" fill="#F23645"/>
<rect x="929" y="613" width="5" height="12" fill="#F23645"/>
<rect x="937" y="598" width="1" height="26" fill="#089981"/>
<rect x="935" y="599" width="5" height="25" fill="#089981"/>
<rect x="943" y="597" width="1" height="13" fill="#F23645"/>
<rect x="941" y="599" width="5" height="7" fill="#F23645"/>
<rect x="949" y="592" width="1" height="21" fill="#089981"/>
<rect x="947" y="598" width="5" height="8" fill="#089981"/>
<rect x="955" y="593" width="1" height="12" fill="#F23645"/>
<rect x="953" y="598" width="5" height="4" fill="#F23645"/>
<rect x="961" y="594" width="1" height="12" fill="#089981"/>
<rect x="959" y="594" width="5" height="8" fill="#089981"/>
<rect x="967" y="597" width="1" height="22" fill="#F23645"/>
<rect x="965" y="597" width="5" height="7" fill="#F23645"/>
<rect x="973" y="583" width="1" height="22" fill="#089981"/>
<rect x="971" y="584" width="5" height="21" fill="#089981"/>
<rect x="979" y="571" width="1" height="17" fill="#089981"/>
<rect x="977" y="574" width="5" height="10" fill="#089981"/>
<rect x="985" y="575" width="1" height="20" fill="#F23645"/>
<rect x="983" y="575" width="5" height="7" fill="#F23645"/>
<rect x="991" y="571" width="1" height="15" fill="#089981"/>
<rect x="989" y="577" width="5" height="6" fill="#089981"/>
<rect x="997" y="565" width="1" height="20" fill="#089981"/>
<rect x="995" y="577" width="5" height="2" fill="#089981"/>
<rect x="1003" y="566" width="1" height="14" fill="#089981"/>
<rect x="1001" y="568" width="5" height="10" fill="#089981"/>
<rect x="1009" y="563" width="1" height="11" fill="#089981"/>
<rect x="1007" y="563" width="5" height="6" fill="#089981"/>
<rect x="1015" y="559" width="1" height="12" fill="#F23645"/>
<rect x="1013" y="563" width="5" height="5" fill="#F23645"/>
<rect x="1021" y="551" width="1" height="25" fill="#089981"/>
<rect x="1019" y="551" width="5" height="17" fill="#089981"/>
<rect x="1027" y="527" width="1" height="25" fill="#089981"/>
<rect x="1025" y="535" width="5" height="17" fill="#089981"/>
<rect x="1033" y="520" width="1" height="19" fill="#089981"/>
<rect x="1031" y="524" width="5" height="12" fill="#089981"/>
<rect x="1039" y="525" width="1" height="22" fill="#F23645"/>
<rect x="1037" y="525" width="5" height="22" fill="#F23645"/>
<rect x="1045" y="542" width="1" height="7" fill="#F23645"/>
<rect x="1043" y="545" width="5" height="3" fill="#F23645"/>
<rect x="1051" y="547" width="1" height="25" fill="#F23645"/>
<rect x="1049" y="547" width="5" height="23" fill="#F23645"/>
<rect x="1057" y="552" width="1" height="17" fill="#089981"/>
<rect x="1055" y="555" width="5" height="14" fill="#089981"/>
<rect x="1063" y="535" width="1" height="21" fill="#089981"/>
<rect x="1061" y="542" width="5" height="14" fill="#089981"/>
<rect x="1069" y="537" width="1" height="15" fill="#F23645"/>
<rect x="1067" y="540" width="5" height="8" fill="#F23645"/>
<rect x="1075" y="546" width="1" height="11" fill="#F23645"/>
<rect x="1073" y="546" width="5" height="11" fill="#F23645"/>
<rect x="1081" y="540" width="1" height="17" fill="#089981"/>
<rect x="1079" y="552" width="5" height="5" fill="#089981"/>
<rect x="1087" y="552" width="1" height="7" fill="#F23645"/>
<rect x="1085" y="552" width="5" height="3" fill="#F23645"/>
<rect x="1093" y="545" width="1" height="10" fill="#089981"/>
<rect x="1091" y="546" width="5" height="9" fill="#089981"/>
<rect x="1099" y="538" width="1" height="9" fill="#089981"/>
<rect x="1097" y="543" width="5" height="4" fill="#089981"/>
<rect x="1105" y="540" width="1" height="5" fill="#F23645"/>
<rect x="1103" y="540" width="5" height="3" fill="#F23645"/>
<rect x="1111" y="542" width="1" height="9" fill="#F23645"/>
<rect x="1109" y="542" width="5" height="6" fill="#F23645"/>
<rect x="1117" y="547" width="1" height="5" fill="#F23645"/>
<rect x="1115" y="547" width="5" height="1" fill="#F23645"/>
<rect x="1123" y="546" width="1" height="5" fill="#F23645"/>
<rect x="1121" y="548" width="5" height="2" fill="#F23645"/>
<rect x="1129" y="549" width="1" height="9" fill="#F23645"/>
<rect x="1127" y="549" width="5" height="9" fill="#F23645"/>
<rect x="1135" y="559" width="1" height="19" fill="#F23645"/>
<rect x="1133" y="559" width="5" height="19" fill="#F23645"/>
<rect x="1141" y="568" width="1" height="18" fill="#089981"/>
<rect x="1139" y="568" width="5" height="9" fill="#089981"/>
<rect x="1147" y="547" width="1" height="22" fill="#089981"/>
<rect x="1145" y="547" width="5" height="22" fill="#089981"/>
<rect x="1153" y="528" width="1" height="20" fill="#089981"/>
<rect x="1151" y="528" width="5" height="20" fill="#089981"/>
<rect x="1159" y="526" width="1" height="21" fill="#F23645"/>
<rect x="1157" y="528" width="5" height="15" fill="#F23645"/>
<rect x="1165" y="538" width="1" height="7" fill="#F23645"/>
<rect x="1163" y="542" width="5" height="3" fill="#F23645"/>
<rect x="1171" y="545" width="1" height="9" fill="#F23645"/>
<rect x="1169" y="547" width="5" height="3" fill="#F23645"/>
<rect x="1177" y="542" width="1" height="10" fill="#089981"/>
<rect x="1175" y="545" width="5" height="5" fill="#089981"/>
<rect x="1183" y="540" width="1" height="10" fill="#F23645"/>
<rect x="1181" y="545" width="5" height="5" fill="#F23645"/>
<rect x="1189" y="546" width="1" height="12" fill="#F23645"/>
<rect x="1187" y="549" width="5" height="5" fill="#F23645"/>
<rect x="1195" y="553" width="1" height="4" fill="#F23645"/>
<rect x="1193" y="554" width="5" height="1" fill="#F23645"/>
<rect x="1201" y="544" width="1" height="12" fill="#089981"/>
<rect x="1199" y="552" width="5" height="4" fill="#089981"/>
<rect x="1207" y="552" width="1" height="8" fill="#F23645"/>
<rect x="1205" y="552" width="5" height="8" fill="#F23645"/>
<rect x="1213" y="558" width="1" height="14" fill="#F23645"/>
<rect x="1211" y="559" width="5" height="7" fill="#F23645"/>
<rect x="1219" y="552" width="1" height="14" fill="#089981"/>
<rect x="1217" y="559" width="5" height="7" fill="#089981"/>
<rect x="1225" y="551" width="1" height="13" fill="#F23645"/>
<rect x="1223" y="559" width="5" height="5" fill="#F23645"/>
<rect x="1231" y="552" width="1" height="12" fill="#089981"/>
<rect x="1229" y="559" width="5" height="5" fill="#089981"/>
<rect x="1237" y="554" width="1" height="11" fill="#089981"/>
<rect x="1235" y="556" width="5" height="4" fill="#089981"/>
<rect x="1243" y="548" width="1" height="9" fill="#089981"/>
<rect x="1241" y="549" width="5" height="8" fill="#089981"/>
<rect x="1249" y="547" width="1" height="7" fill="#089981"/>
<rect x="1247" y="547" width="5" height="3" fill="#089981"/>
<rect x="1255" y="547" width="1" height="10" fill="#F23645"/>
<rect x="1253" y="547" width="5" height="8" fill="#F23645"/>
<rect x="1261" y="549" width="1" height="20" fill="#F23645"/>
<rect x="1259" y="554" width="5" height="15" fill="#F23645"/>
<rect x="1267" y="568" width="1" height="14" fill="#F23645"/>
<rect x="1265" y="568" width="5" height="6" fill="#F23645"/>
<rect x="1273" y="556" width="1" height="23" fill="#F23645"/>
<rect x="1271" y="573" width="5" height="3" fill="#F23645"/>
<rect x="1279" y="554" width="1" height="24" fill="#089981"/>
<rect x="1277" y="565" width="5" height="10" fill="#089981"/>
<rect x="1285" y="558" width="1" height="8" fill="#F23645"/>
<rect x="1283" y="563" width="5" height="3" fill="#F23645"/>
<rect x="1291" y="566" width="1" height="14" fill="#F23645"/>
<rect x="1289" y="566" width="5" height="13" fill="#F23645"/>
<rect x="1297" y="575" width="1" height="7" fill="#F23645"/>
<rect x="1295" y="578" width="5" height="4" fill="#F23645"/>
<rect x="1303" y="575" width="1" height="7" fill="#089981"/>
<rect x="1301" y="575" width="5" height="7" fill="#089981"/>
<rect x="1309" y="573" width="1" height="7" fill="#F23645"/>
<rect x="1307" y="576" width="5" height="4" fill="#F23645"/>
<rect x="1315" y="550" width="1" height="29" fill="#089981"/>
<rect x="1313" y="557" width="5" height="22" fill="#089981"/>
<rect x="1321" y="557" width="1" height="6" fill="#089981"/>
<rect x="1319" y="557" width="5" height="4" fill="#089981"/>
<rect x="1327" y="545" width="1" height="15" fill="#F23645"/>
<rect x="1325" y="557" width="5" height="3" fill="#F23645"/>
<rect x="1333" y="550" width="1" height="12" fill="#089981"/>
<rect x="1331" y="558" width="5" height="2" fill="#089981"/>
<rect x="1339" y="545" width="1" height="12" fill="#089981"/>
<rect x="1337" y="545" width="5" height="12" fill="#089981"/>
<rect x="1345" y="528" width="1" height="18" fill="#089981"/>
<rect x="1343" y="529" width="5" height="17" fill="#089981"/>
<rect x="1351" y="521" width="1" height="15" fill="#F23645"/>
<rect x="1349" y="529" width="5" height="7" fill="#F23645"/>
<rect x="1357" y="527" width="1" height="16" fill="#089981"/>
<rect x="1355" y="527" width="5" height="9" fill="#089981"/>
<rect x="1363" y="517" width="1" height="20" fill="#F23645"/>
<rect x="1361" y="527" width="5" height="10" fill="#F23645"/>
<rect x="1369" y="535" width="1" height="11" fill="#F23645"/>
<rect x="1367" y="538" width="5" height="1" fill="#F23645"/>
<rect x="1375" y="536" width="1" height="6" fill="#F23645"/>
<rect x="1373" y="539" width="5" height="3" fill="#F23645"/>
<rect x="1381" y="535" width="1" height="6" fill="#089981"/>
<rect x="1379" y="535" width="5" height="6" fill="#089981"/>
<rect x="1387" y="535" width="1" height="18" fill="#F23645"/>
<rect x="1385" y="535" width="5" height="18" fill="#F23645"/>
<rect x="1393" y="547" width="1" height="10" fill="#F23645"/>
<rect x="1391" y="551" width="5" height="5" fill="#F23645"/>
</g>
<g shape-rendering="crispEdges" fill="#F23645">
<path d="M2 555.5H1456" stroke="#F23645" stroke-width="1" stroke-dasharray="1 2" fill="none"/>
</g>
<g font-size="12" fill="#0F0F0F" letter-spacing="-0.15" stroke="#0F0F0F" stroke-width="0.15">
<text x="1465" y="9.9">94,500</text>
<text x="1465" y="41.9">94,250</text>
<text x="1465" y="73.9">94,000</text>
<text x="1465" y="105.9">93,750</text>
<text x="1465" y="137.9">93,500</text>
<text x="1465" y="169.9">93,250</text>
<text x="1465" y="201.9">93,000</text>
<text x="1465" y="233.9">92,750</text>
<text x="1465" y="265.9">92,500</text>
<text x="1465" y="297.9">92,250</text>
<text x="1465" y="329.9">92,000</text>
<text x="1465" y="361.9">91,750</text>
<text x="1465" y="393.9">91,500</text>
<text x="1465" y="425.9">91,250</text>
<text x="1465" y="457.9">91,000</text>
<text x="1465" y="489.9">90,750</text>
<text x="1465" y="522.9">90,500</text>
<text x="1465" y="554.9">90,250</text>
<text x="1465" y="586.9">90,000</text>
<text x="1465" y="618.9">89,750</text>
<text x="1465" y="651.4">89,500</text>
<text x="1465" y="683.4">89,250</text>
<text x="1465" y="715.4" textLength="12" lengthAdjust="spacingAndGlyphs">89</text><text x="1478.1" y="715.4">,000</text>
</g>
<g font-size="12" fill="#0F0F0F" text-anchor="middle" letter-spacing="-0.15" stroke="#0F0F0F" stroke-width="0.15">
<text x="31.5" y="740">15:00</text>
<text x="103.5" y="740">16:00</text>
<text x="175.5" y="740">17:00</text>
<text x="247.5" y="740">18:00</text>
<text x="319.5" y="740">19:00</text>
<text x="391.5" y="740">20:00</text>
<text x="463.5" y="740">21:00</text>
<text x="535.5" y="740">22:00</text>
<text x="607.5" y="740">23:00</text>
<text x="679.5" y="740" stroke="#0F0F0F" stroke-width="0.35">11</text>
<text x="751.5" y="740">01:00</text>
<text x="823.5" y="740">02:00</text>
<text x="895.5" y="740">03:00</text>
<text x="967.5" y="740">04:00</text>
<text x="1039.5" y="740">05:00</text>
<text x="1111.5" y="740">06:00</text>
<text x="1183.5" y="740">07:00</text>
<text x="1255.5" y="740">08:00</text>
<text x="1327.5" y="740">09:00</text>
<text x="1399.5" y="740">10:00</text>
</g>
<rect x="0" y="749.7" width="1508" height="1.3" fill="#E3E3E5"/>
<path d="M1457 547H1504a2 2 0 0 1 2 2V576a2 2 0 0 1 -2 2H1457Z" fill="#F23645"/>
<g font-size="12" fill="#fff" stroke="#fff" letter-spacing="-0.15"><text x="1465" y="559" stroke-width="0.45">90,219</text><text x="1465" y="573" fill-opacity="0.85" stroke-opacity="0.85" stroke-width="0.35">02:02</text></g>
<path d="M1457 705H1475a2 2 0 0 1 2 2V720a2 2 0 0 1 -2 2H1457Z" fill="#EF5350"/>
<text x="1467.6" y="717.8" font-size="12" fill="#fff" stroke="#fff" stroke-width="0.4" text-anchor="middle">6</text>
<g fill="none" stroke="#0F0F0F" stroke-width="1"><path d="M1476.5 736.5L1480 730.5H1487L1490.5 736.5L1487 742.5H1480Z"/><circle cx="1483.5" cy="736.5" r="1.8"/></g>
<g font-size="13" fill="#0F0F0F" stroke="#0F0F0F" stroke-width="0.2"><text x="5.3" y="15" textLength="16.8" lengthAdjust="spacingAndGlyphs">Vol</text><text x="26.6" y="16.3" font-weight="bold" font-size="15">·</text><text x="35.5" y="15" textLength="21.9" lengthAdjust="spacingAndGlyphs">BTC</text></g>
<text x="65.7" y="15" font-size="13" fill="#EF5350">6</text>
<rect x="4.5" y="25.5" width="28" height="20" rx="2.5" fill="#fff" stroke="#D9DADC" stroke-width="1"/>
<path d="M14.5 37.3L18.5 33.8L22.5 37.3" fill="none" stroke="#0F0F0F" stroke-width="1.4"/>
<g stroke="#fff" stroke-width="3" stroke-linejoin="round" paint-order="stroke" fill="#0F0F0F">
<g transform="translate(7.9 689.77) scale(0.8333)"><path d="M14 22H7V11H0V4h14v18z"/><circle cx="20" cy="8" r="4"/><path d="M28 22h-8l7.5-18h8L28 22z"/></g>
<text x="45" y="707.7" font-size="20" font-weight="bold" textLength="120.8" lengthAdjust="spacingAndGlyphs" stroke-width="2.5">TradingView</text>
</g>
<circle cx="1393.8" cy="709.4" r="9.65" fill="#fff" stroke="#9C27B0" stroke-width="1.3"/>
<path d="M1396.6 704.2L1389.7 709.6L1397.4 709.1L1390.4 714.7" fill="none" stroke="#9C27B0" stroke-width="1.4" stroke-linejoin="round" stroke-linecap="round"/>
<path d="M1382.9 708.1Q1384.3 711.5 1387.7 712.9Q1384.3 714.3 1382.9 717.7Q1381.5 714.3 1378.1 712.9Q1381.5 711.5 1382.9 708.1Z" fill="#7C4DFF" stroke="#fff" stroke-width="2.2" stroke-linejoin="round" paint-order="stroke"/>
</svg></body></html>
